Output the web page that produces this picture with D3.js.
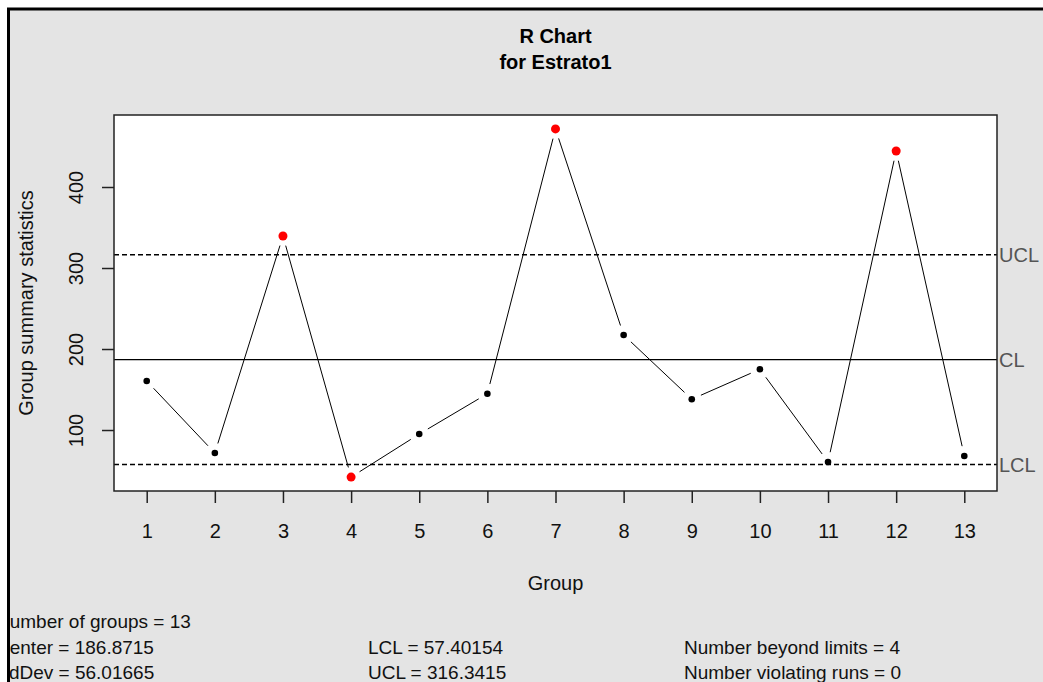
<html lang="en">
  <head>
    <title>R Chart for Estrato1</title>
    <script src="https://cdnjs.cloudflare.com/ajax/libs/d3/7.8.5/d3.min.js"></script>
    <style>
      body { margin: 0; background: #fff; }
      text { font-family: 'Liberation Sans', Arial, sans-serif; }
    </style>
  </head>
  <body>
    <div id="container"></div>
    <script>
      // group numbers and the range of each group
      const groups = [1, 2, 3, 4, 5, 6, 7, 8, 9, 10, 11, 12, 13]
      const ranges = [160.5, 71.6, 339.5, 41.9, 95.0, 144.8, 471.7, 217.3, 138.0, 175.0, 60.5, 444.5, 68.0]
      const yTicks = [100, 200, 300, 400]
      const limits = [
        { name: 'UCL', value: 316.3415, dash: '5,3' },
        { name: 'CL', value: 186.8715, dash: null },
        { name: 'LCL', value: 57.40154, dash: '5,3' }
      ]
      const statsLines = [
        ['Number of groups = 13', '', ''],
        ['Center = 186.8715', 'LCL = 57.40154', 'Number beyond limits = 4'],
        ['StdDev = 56.01665', 'UCL = 316.3415', 'Number violating runs = 0']
      ]

      const W = 1043, H = 682
      const plot = { left: 114, right: 997, top: 115, bottom: 491 }

      let svg = d3.select('#container').append('svg')
        .attr('width', W)
        .attr('height', H)

      // clip for the grey frame (text at the bottom left is cut by the border)
      svg.append('clipPath').attr('id', 'frame')
        .append('rect').attr('x', 9.5).attr('y', 10).attr('width', W).attr('height', H)

      // grey margin with black border on top and left
      svg.append('rect')
        .attr('x', 8.5).attr('y', 9)
        .attr('width', W + 10).attr('height', H + 10)
        .attr('fill', '#e4e4e4')
        .attr('stroke', '#000')
        .attr('stroke-width', 3)

      // white plotting region
      svg.append('rect')
        .attr('x', plot.left).attr('y', plot.top)
        .attr('width', plot.right - plot.left)
        .attr('height', plot.bottom - plot.top)
        .attr('fill', '#fff')

      // scales, with R's 4% padding
      let all = ranges.concat(limits.map(d => d.value))
      let lo = d3.min(all), hi = d3.max(all), pad = (hi - lo) * 0.04
      let y = d3.scaleLinear().domain([lo - pad, hi + pad]).range([plot.bottom, plot.top])
      let xpad = (d3.max(groups) - d3.min(groups)) * 0.04
      let x = d3.scaleLinear()
        .domain([d3.min(groups) - xpad, d3.max(groups) + xpad])
        .range([plot.left, plot.right])

      // control limit lines
      svg.selectAll('.limit')
        .data(limits).enter()
        .append('line')
        .attr('x1', plot.left).attr('x2', plot.right)
        .attr('y1', d => y(d.value)).attr('y2', d => y(d.value))
        .attr('stroke', '#000')
        .attr('stroke-width', 1.3)
        .attr('stroke-dasharray', d => d.dash)

      svg.selectAll('.limit-label')
        .data(limits).enter()
        .append('text')
        .attr('x', plot.right + 2)
        .attr('y', d => y(d.value))
        .attr('dy', '0.36em')
        .attr('font-size', 20)
        .attr('fill', '#555')
        .text(d => d.name)

      // lines between points, with a gap round each point (type = "b")
      let pts = groups.map((g, i) => ({ g, v: ranges[i], px: x(g), py: y(ranges[i]) }))
      let gap = 10
      let segs = d3.pairs(pts).map(([a, b]) => {
        let dx = b.px - a.px, dy = b.py - a.py, len = Math.hypot(dx, dy)
        let ux = dx / len, uy = dy / len
        return { x1: a.px + ux * gap, y1: a.py + uy * gap, x2: b.px - ux * gap, y2: b.py - uy * gap }
      })
      svg.selectAll('.seg')
        .data(segs).enter()
        .append('line')
        .attr('x1', d => d.x1).attr('y1', d => d.y1)
        .attr('x2', d => d.x2).attr('y2', d => d.y2)
        .attr('stroke', '#000')
        .attr('stroke-width', 1)

      // points, red when beyond the limits
      let ucl = limits[0].value, lcl = limits[2].value
      svg.selectAll('.pt')
        .data(pts).enter()
        .append('circle')
        .attr('cx', d => d.px)
        .attr('cy', d => d.py)
        .attr('r', d => (d.v > ucl || d.v < lcl) ? 4.5 : 3.3)
        .attr('fill', d => (d.v > ucl || d.v < lcl) ? '#ff0000' : '#000')

      // box
      svg.append('rect')
        .attr('x', plot.left).attr('y', plot.top)
        .attr('width', plot.right - plot.left)
        .attr('height', plot.bottom - plot.top)
        .attr('fill', 'none')
        .attr('stroke', '#222')
        .attr('stroke-width', 1.5)

      // x axis
      let gx = svg.append('g')
        .attr('transform', `translate(0,${plot.bottom})`)
        .call(d3.axisBottom(x).tickValues(groups).tickSize(12).tickFormat(d3.format('d')))
      gx.select('.domain').remove()
      gx.selectAll('.tick line').attr('stroke', '#222').attr('stroke-width', 1.5)
      gx.selectAll('.tick text')
        .attr('y', 47).attr('dy', 0)
        .attr('font-size', 20)
        .attr('font-family', 'Liberation Sans, Arial, sans-serif')
        .attr('fill', '#111')

      // y axis, labels rotated like R
      let gy = svg.append('g')
        .attr('transform', `translate(${plot.left},0)`)
        .call(d3.axisLeft(y).tickValues(yTicks).tickSize(12))
      gy.select('.domain').remove()
      gy.selectAll('.tick line').attr('stroke', '#222').attr('stroke-width', 1.5)
      gy.selectAll('.tick text')
        .attr('x', 0).attr('dy', '0.36em')
        .attr('text-anchor', 'middle')
        .attr('transform', 'translate(-38,0) rotate(-90)')
        .attr('font-size', 20)
        .attr('font-family', 'Liberation Sans, Arial, sans-serif')
        .attr('fill', '#111')

      // titles
      let midX = (plot.left + plot.right) / 2
      svg.append('text')
        .attr('x', midX).attr('y', 43)
        .attr('text-anchor', 'middle')
        .attr('font-size', 20).attr('font-weight', 'bold')
        .text('R Chart')
      svg.append('text')
        .attr('x', midX).attr('y', 69)
        .attr('text-anchor', 'middle')
        .attr('font-size', 20).attr('font-weight', 'bold')
        .text('for Estrato1')

      // axis titles
      svg.append('text')
        .attr('x', midX).attr('y', 590)
        .attr('text-anchor', 'middle')
        .attr('font-size', 20)
        .attr('fill', '#111')
        .text('Group')
      svg.append('text')
        .attr('transform', `translate(26,${(plot.top + plot.bottom) / 2}) rotate(-90)`)
        .attr('dy', '0.36em')
        .attr('text-anchor', 'middle')
        .attr('font-size', 20)
        .attr('fill', '#111')
        .text('Group summary statistics')

      // summary statistics under the chart (first column runs under the border, as in R)
      let colX = [[-4, 368, 684], [-4, 368, 684], [-9, 368, 684]]
      let rowY = [628, 654, 679]
      let stats = svg.append('g').attr('clip-path', 'url(#frame)')
      statsLines.forEach((row, r) => {
        row.forEach((t, c) => {
          if (!t) return
          stats.append('text')
            .attr('x', colX[r][c]).attr('y', rowY[r])
            .attr('font-size', 19)
            .attr('fill', '#111')
            .text(t)
        })
      })
    </script>
  </body>
</html>
